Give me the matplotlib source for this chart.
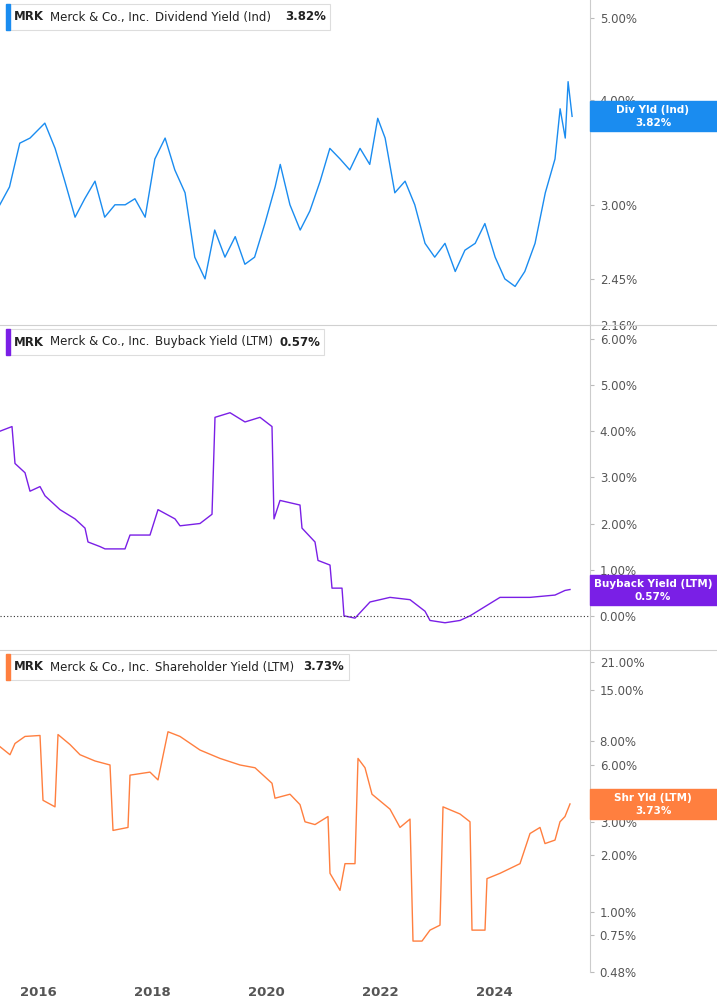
import matplotlib
matplotlib.use("Agg")
import matplotlib.pyplot as plt
from matplotlib.patches import Rectangle
import numpy as np

# ---- data (decimal year, value %) ----
div_t = [2015.33,2015.5,2015.68,2015.86,2016.12,2016.3,2016.47,2016.65,2016.82,2017.0,2017.17,2017.35,2017.53,2017.7,2017.88,2018.05,2018.23,2018.4,2018.58,2018.75,2018.93,2019.1,2019.28,2019.46,2019.63,2019.8,2019.98,2020.16,2020.25,2020.42,2020.6,2020.77,2020.95,2021.12,2021.3,2021.47,2021.65,2021.82,2021.96,2022.09,2022.26,2022.44,2022.61,2022.79,2022.96,2023.14,2023.32,2023.49,2023.67,2023.84,2024.02,2024.19,2024.37,2024.54,2024.72,2024.9,2025.07,2025.16,2025.25,2025.3,2025.37]
div_v = [3.0,3.15,3.55,3.6,3.75,3.5,3.2,2.9,3.05,3.2,2.9,3.0,3.0,3.05,2.9,3.4,3.6,3.3,3.1,2.6,2.45,2.8,2.6,2.75,2.55,2.6,2.85,3.15,3.35,3.0,2.8,2.95,3.2,3.5,3.4,3.3,3.5,3.35,3.8,3.6,3.1,3.2,3.0,2.7,2.6,2.7,2.5,2.65,2.7,2.85,2.6,2.45,2.4,2.5,2.7,3.1,3.4,3.9,3.6,4.2,3.82]

bb_x = [0,12,15,25,30,40,45,60,75,85,88,100,105,125,130,150,158,175,180,200,212,215,230,245,260,272,274,280,300,302,315,318,330,332,342,344,355,370,390,410,425,430,445,460,470,485,500,530,555,565,570]
bb_v = [4.0,4.1,3.3,3.1,2.7,2.8,2.6,2.3,2.1,1.9,1.6,1.5,1.45,1.45,1.75,1.75,2.3,2.1,1.95,2.0,2.2,4.3,4.4,4.2,4.3,4.1,2.1,2.5,2.4,1.9,1.6,1.2,1.1,0.6,0.6,0.0,-0.05,0.3,0.4,0.35,0.1,-0.1,-0.15,-0.1,0.0,0.2,0.4,0.4,0.45,0.55,0.57]

sh_x = [0,10,15,25,40,43,55,58,70,80,95,110,113,128,130,150,158,168,180,200,220,240,255,272,275,290,300,305,315,328,330,340,345,355,358,365,372,390,400,410,413,422,430,440,443,460,470,472,485,487,500,520,530,540,545,555,560,565,570]
sh_v = [7.5,6.8,7.8,8.5,8.6,3.9,3.6,8.7,7.7,6.8,6.3,6.0,2.7,2.8,5.3,5.5,5.0,9.0,8.5,7.2,6.5,6.0,5.8,4.8,4.0,4.2,3.7,3.0,2.9,3.2,1.6,1.3,1.8,1.8,6.5,5.8,4.2,3.5,2.8,3.1,0.7,0.7,0.8,0.85,3.6,3.3,3.0,0.8,0.8,1.5,1.6,1.8,2.6,2.8,2.3,2.4,3.0,3.2,3.73]

def px2yr(xs):
    return [2016 + (x - 38) / 57 for x in xs]

bb_t = px2yr(bb_x)
sh_t = px2yr(sh_x)

W, H = 717, 1005
fig = plt.figure(figsize=(W/100, H/100), dpi=100)
plotw = 590 / W
xlo, xhi = 2016 - 38/57, 2016 + (590-38)/57

panels = [
    dict(t=div_t, v=div_v, col="#1a8cf0", top=0, bot=325, log=True, lim=(2.16, 5.25),
         ticks=[2.16,2.45,3.0,4.0,5.0], title="Dividend Yield (Ind)", last="3.82%",
         box=("Div Yld (Ind)", "3.82%"), bval=3.82),
    dict(t=bb_t, v=bb_v, col="#7a1fe6", top=325, bot=650, log=False, lim=(-0.74, 6.3),
         ticks=[0,1,2,3,4,5,6], title="Buyback Yield (LTM)", last="0.57%",
         box=("Buyback Yield (LTM)", "0.57%"), bval=0.57),
    dict(t=sh_t, v=sh_v, col="#ff7f3f", top=650, bot=972, log=True, lim=(0.48, 24.4),
         ticks=[0.48,0.75,1,2,3,6,8,15,21], title="Shareholder Yield (LTM)", last="3.73%",
         box=("Shr Yld (LTM)", "3.73%"), bval=3.73),
]

fig.canvas.draw()
for i, p in enumerate(panels):
    hpx = p["bot"] - p["top"]
    ax = fig.add_axes([0, 1 - p["bot"]/H, plotw, hpx/H])
    ax.plot(p["t"], p["v"], color=p["col"], lw=1.0)
    if p["log"]:
        ax.set_yscale("log")
    ax.set_ylim(*p["lim"])
    ax.set_xlim(xlo, xhi)
    ax.yaxis.tick_right()
    ax.set_yticks(p["ticks"])
    ax.set_yticklabels([f"{t:.2f}%" for t in p["ticks"]], fontsize=8.5, color="#555555")
    ax.minorticks_off()
    ax.tick_params(axis="y", length=3, color="#bbbbbb", pad=4)
    for s in ["left", "top", "bottom"]:
        ax.spines[s].set_visible(False)
    ax.spines["right"].set_color("#cccccc")
    if i < 2:
        ax.set_xticks([])
        fig.add_artist(plt.Line2D([0, 1], [1 - p["bot"]/H]*2, color="#d0d0d0", lw=0.8))
    else:
        ax.set_xticks([2016, 2018, 2020, 2022, 2024])
        ax.set_xticklabels(["2016","2018","2020","2022","2024"], fontsize=9.5,
                           color="#555555", fontweight="bold")
        ax.tick_params(axis="x", length=0, pad=10)
    if i == 1:
        ax.axhline(0, color="#333333", ls=(0, (1, 2)), lw=0.8)
    # legend box
    ly = 1 - 17/hpx
    ax.add_patch(Rectangle((6/590, 1 - 30/hpx), (len(p["title"])*6.2 + 200)/590, 26/hpx,
                           transform=ax.transAxes, fc="white", ec="#dddddd", lw=0.8,
                           clip_on=False, zorder=4))
    ax.add_patch(Rectangle((6/590, 1 - 30/hpx), 4/590, 26/hpx,
                           transform=ax.transAxes, color=p["col"], clip_on=False, zorder=5))
    x = 14/590
    for txt, w, bold in [("MRK", 36, True), ("Merck & Co., Inc.", 105, False),
                         (p["title"], len(p["title"])*6.0 + 10, False), (p["last"], 40, True)]:
        ax.text(x, ly, txt, transform=ax.transAxes, fontsize=8.5, color="#222222",
                va="center", fontweight="bold" if bold else "normal", zorder=6)
        x += w/590
    # value box at right
    lo, hi = p["lim"]
    if p["log"]:
        frac = (np.log(p["bval"]) - np.log(lo)) / (np.log(hi) - np.log(lo))
    else:
        frac = (p["bval"] - lo) / (hi - lo)
    bh = 30 / hpx
    ax.add_patch(Rectangle((1.0, frac - bh/2), 127/590, bh, transform=ax.transAxes,
                           color=p["col"], clip_on=False, zorder=5))
    ax.text(1 + 63/590, frac + 6/hpx, p["box"][0], transform=ax.transAxes, ha="center",
            va="center", color="white", fontsize=7.5, fontweight="bold", zorder=6)
    ax.text(1 + 63/590, frac - 7/hpx, p["box"][1], transform=ax.transAxes, ha="center",
            va="center", color="white", fontsize=7.5, fontweight="bold", zorder=6)

fig.savefig("out.png", dpi=100)
